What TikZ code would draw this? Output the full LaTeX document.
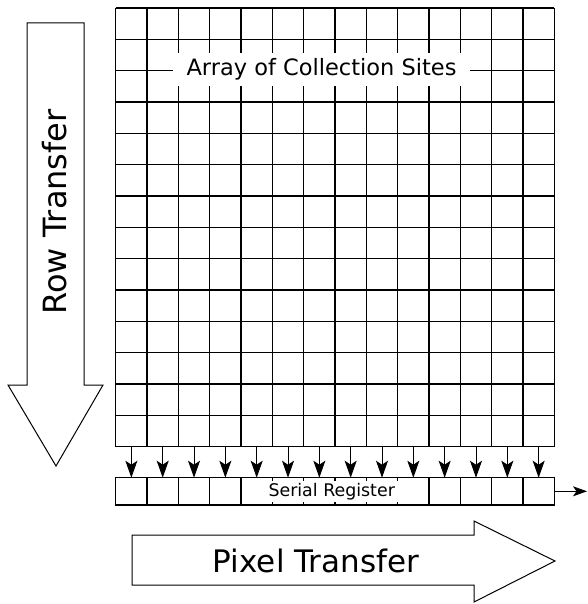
\documentclass[tikz,border=0pt]{standalone}
\usepackage{fontspec}
\setmainfont{DejaVu Sans}
\usetikzlibrary{arrows.meta}
\begin{document}
\begin{tikzpicture}[x=1pt, y=-1pt, line width=1.2pt, >={Stealth[length=17pt,width=12pt,inset=4pt]}]
  \useasboundingbox (0,0) rectangle (587,604);
  \def\cw{31.33}
  % array of sites
  \foreach \i in {0,...,14} {
    \draw (115.7+\i*\cw,8) -- (115.7+\i*\cw,446.6);
    \draw (115.7,8+\i*\cw) -- (554.3,8+\i*\cw);
  }
  \node[fill=white, minimum width=297pt, minimum height=33pt, inner sep=0pt,
        font=\fontsize{22.5}{27}\selectfont] (array) at (321.5,69.5) {Array of Collection Sites};
  % serial register
  \draw (115.7,477.7) rectangle (554.3,505);
  \foreach \i in {1,...,13}
    \draw (115.7+\i*\cw,477.7) -- ++(0,27.3);
  \fill[white] (243.5,481) rectangle (401,502);
  \node[inner sep=0pt, font=\fontsize{17.4}{21}\selectfont] (serial) at (331.7,491.3) {Serial Register};
  \foreach \i in {1,...,14} {
    \coordinate (t\i) at (115.7+\i*\cw-\cw/2,446.6);
    \coordinate (b\i) at (115.7+\i*\cw-\cw/2,477.7);
    \draw[->, line width=1pt] (t\i) -- (b\i);
  }
  \coordinate (regout) at (554.3,491.3);
  \coordinate (out) at (587,491.3);
  \draw[->, line width=1pt, >={Stealth[length=14pt,width=10pt,inset=3.5pt]}] (regout) -- (out);
  % big arrows
  \draw[line width=1pt] (27,23) -- (84,23) -- (84,385) -- (103,385) -- (56,466) -- (8,385) -- (27,385) -- cycle;
  \node[rotate=90, font=\fontsize{32}{38}\selectfont] (rowlbl) at (55,212) {Row Transfer};
  \draw[line width=1pt] (132,535) -- (474,535) -- (474,521) -- (555,561) -- (474,602) -- (474,585) -- (132,585) -- cycle;
  \node[font=\fontsize{31}{36}\selectfont] (pixlbl) at (316,561) {Pixel Transfer};
\end{tikzpicture}
\end{document}
